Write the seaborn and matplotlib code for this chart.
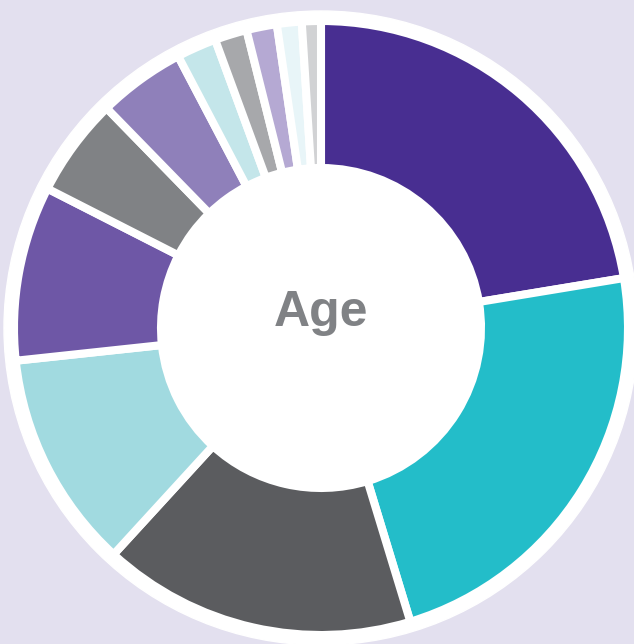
import matplotlib
matplotlib.use("Agg")
import matplotlib.pyplot as plt
import seaborn as sns
import numpy as np

# slice shares (percent), read clockwise from 12 o'clock
groups = ["g1", "g2", "g3", "g4", "g5", "g6", "g7", "g8", "g9", "g10", "g11", "g12"]
shares = [22.4, 22.9, 16.5, 11.5, 9.2, 5.2, 4.6, 2.1, 1.7, 1.6, 1.3, 1.0]
colors = ["#482E91", "#23BDC9", "#5B5C5F", "#A1DAE0", "#6E57A6", "#808285",
          "#8F80BA", "#C4E6EA", "#A7A8AB", "#B5A9D3", "#E8F5F8", "#D1D2D4"]

sns.set_style("white")
plt.rcParams['font.family'] = ['Liberation Sans', 'DejaVu Sans']

bg = "#E3E0EF"
W, H = 634, 644
fig = plt.figure(figsize=(W / 100, H / 100), dpi=100, facecolor=bg)
ax = fig.add_axes([0, 0, 1, 1])
ax.set_facecolor(bg)

cx, cy = 321, H - 328
outer, inner = 307, 160

# white disc behind the ring
ax.add_patch(plt.Circle((cx, cy), 317, color="white", zorder=0))

palette = sns.color_palette(colors)
ax.pie(shares, colors=palette, startangle=90, counterclock=False,
       center=(cx, cy), radius=outer,
       wedgeprops=dict(width=outer - inner, edgecolor="white", linewidth=5.8))

ax.text(cx, H - 313, "Age", ha="center", va="center", fontsize=36,
        fontweight="bold", color="#808285")

ax.set_xlim(0, W)
ax.set_ylim(0, H)
ax.set_aspect("equal")
ax.axis("off")

fig.savefig("out.png", dpi=100, facecolor=bg)
